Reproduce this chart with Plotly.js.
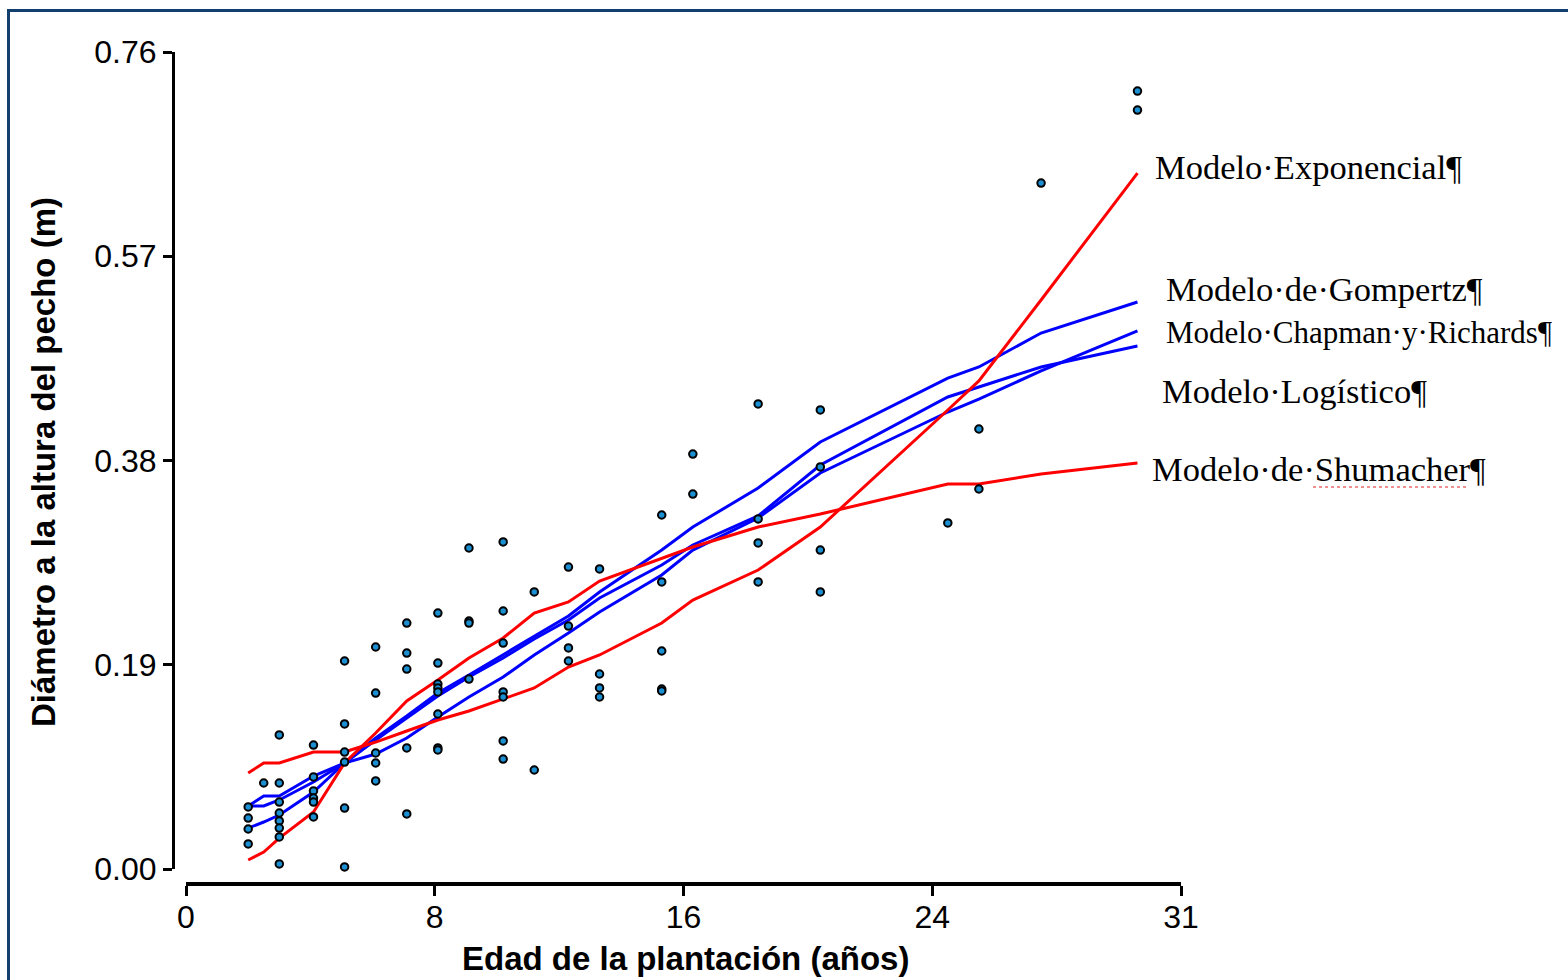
<!DOCTYPE html>
<html>
<head>
<meta charset="utf-8">
<script src="https://cdn.plot.ly/plotly-3.0.1.min.js"></script>
<style>html,body{margin:0;padding:0;background:#fff;}#chart{width:1568px;height:980px;}</style>
</head>
<body>
<div id="chart"></div>
<script>
// Ages (years) at which the fitted models are drawn
const ages = [2.0, 2.5, 3.0, 4.1, 5.1, 6.1, 7.1, 8.1, 9.1, 10.2, 11.2, 12.3, 13.3, 15.3, 16.3, 18.4, 20.4, 24.5, 25.5, 27.5, 30.6];

// Fitted model values (m)
const exponencial = [0.0893, 0.0986, 0.0986, 0.1088, 0.1088, 0.1181, 0.1284, 0.1386, 0.1470, 0.1581, 0.1684, 0.1879, 0.1991, 0.2288, 0.2502, 0.2781, 0.3181, 0.4270, 0.4540, 0.5293, 0.6474];
const shumacher   = [0.0084, 0.0158, 0.0288, 0.0530, 0.0986, 0.1265, 0.1563, 0.1758, 0.1963, 0.2149, 0.2381, 0.2484, 0.2679, 0.2893, 0.2995, 0.3181, 0.3302, 0.3581, 0.3581, 0.3674, 0.3777];
const gompertz    = [0.0586, 0.0679, 0.0679, 0.0865, 0.0986, 0.1219, 0.1423, 0.1637, 0.1805, 0.1991, 0.2167, 0.2353, 0.2577, 0.2967, 0.3181, 0.3544, 0.3972, 0.4567, 0.4670, 0.4986, 0.5274];
const logistico   = [0.0586, 0.0586, 0.0642, 0.0809, 0.0986, 0.1200, 0.1405, 0.1609, 0.1786, 0.1963, 0.2140, 0.2316, 0.2521, 0.2828, 0.3014, 0.3284, 0.3758, 0.4391, 0.4484, 0.4670, 0.4865];
const chapman     = [0.0381, 0.0437, 0.0502, 0.0716, 0.0986, 0.1070, 0.1219, 0.1414, 0.1600, 0.1786, 0.1991, 0.2195, 0.2391, 0.2735, 0.2967, 0.3265, 0.3684, 0.4251, 0.4372, 0.4633, 0.5005];

// Observations
const obsAge = [
  2.0, 2.0, 2.0, 2.0,
  2.5,
  3.0, 3.0, 3.0, 3.0, 3.0, 3.0, 3.0, 3.0,
  4.1, 4.1, 4.1, 4.1, 4.1, 4.1,
  5.1, 5.1, 5.1, 5.1, 5.1, 5.1,
  6.1, 6.1, 6.1, 6.1, 6.1,
  7.1, 7.1, 7.1, 7.1, 7.1,
  8.1, 8.1, 8.1, 8.1, 8.1, 8.1, 8.1, 8.1,
  9.1, 9.1, 9.1, 9.1,
  10.2, 10.2, 10.2, 10.2, 10.2, 10.2, 10.2,
  11.2, 11.2,
  12.3, 12.3, 12.3, 12.3,
  13.3, 13.3, 13.3, 13.3,
  15.3, 15.3, 15.3, 15.3, 15.3,
  16.3, 16.3,
  18.4, 18.4, 18.4, 18.4,
  20.4, 20.4, 20.4, 20.4,
  24.5,
  25.5, 25.5,
  27.5,
  30.6, 30.6
];
const obsDiam = [
  0.0577, 0.0474, 0.0372, 0.0233,
  0.0800,
  0.1247, 0.0800, 0.0623, 0.0521, 0.0447, 0.0381, 0.0298, 0.0047,
  0.1153, 0.0856, 0.0726, 0.0660, 0.0623, 0.0484,
  0.1935, 0.1349, 0.1088, 0.0995, 0.0567, 0.0019,
  0.2065, 0.1637, 0.1079, 0.0986, 0.0819,
  0.2288, 0.2009, 0.1860, 0.1126, 0.0512,
  0.2381, 0.1916, 0.1721, 0.1684, 0.1647, 0.1442, 0.1126, 0.1107,
  0.2986, 0.2307, 0.2288, 0.1767,
  0.3042, 0.2400, 0.2102, 0.1647, 0.1600, 0.1191, 0.1023,
  0.2577, 0.0921,
  0.2809, 0.2260, 0.2056, 0.1935,
  0.2791, 0.1814, 0.1684, 0.1600,
  0.3293, 0.2670, 0.2028, 0.1674, 0.1656,
  0.3860, 0.3488,
  0.4326, 0.3256, 0.3033, 0.2670,
  0.4270, 0.3740, 0.2967, 0.2577,
  0.3219,
  0.4093, 0.3535,
  0.6381,
  0.7237, 0.7060
];

// Axis ticks
const xTickVals = [0, 8, 16, 24, 32];
const xTickText = ['0', '8', '16', '24', '31'];
const yTickVals = [0, 0.19, 0.38, 0.57, 0.76];
const yTickText = ['0.00', '0.19', '0.38', '0.57', '0.76'];

// Labels
const modelLabels = ['Modelo·Exponencial¶', 'Modelo·de·Gompertz¶', 'Modelo·Chapman·y·Richards¶', 'Modelo·Logístico¶', 'Modelo·de·Shumacher¶'];
const xTitle = 'Edad de la plantación (años)';
const yTitle = 'Diámetro a la altura del pecho (m)';

const W = 1568, H = 980;
const px = v => v / W;
const py = v => 1 - v / H;

function lineTrace(y, color) {
  return {x: ages, y: y, type: 'scatter', mode: 'lines', line: {color: color, width: 3}, hoverinfo: 'skip', showlegend: false, cliponaxis: false};
}

const data = [
  lineTrace(gompertz, '#0000ff'),
  lineTrace(logistico, '#0000ff'),
  lineTrace(chapman, '#0000ff'),
  lineTrace(exponencial, '#ff0000'),
  lineTrace(shumacher, '#ff0000'),
  {x: obsAge, y: obsDiam, type: 'scatter', mode: 'markers', cliponaxis: false, showlegend: false,
   marker: {size: 7.5, color: '#1a8fd2', line: {color: '#000000', width: 2}}}
];

const serif = 'Liberation Serif, Times New Roman, serif';
const sans = 'Liberation Sans, Arial, sans-serif';

const labelPos = [
  {x: 1153, y: 167, size: 34.5},
  {x: 1164, y: 289, size: 34.5},
  {x: 1164, y: 333, size: 31},
  {x: 1160, y: 391, size: 34.5},
  {x: 1150, y: 469, size: 34.5}
];

const annotations = modelLabels.map((t, i) => ({
  text: t, xref: 'paper', yref: 'paper', x: px(labelPos[i].x), y: py(labelPos[i].y),
  xanchor: 'left', yanchor: 'middle', showarrow: false,
  font: {family: serif, size: labelPos[i].size, color: '#000'}
}));
annotations.push({
  text: '<b>' + xTitle + '</b>', xref: 'paper', yref: 'paper', x: px(685), y: py(958),
  xanchor: 'center', yanchor: 'middle', showarrow: false,
  font: {family: sans, size: 33, color: '#000'}
});
annotations.push({
  text: '<b>' + yTitle + '</b>', xref: 'paper', yref: 'paper', x: px(43), y: py(462),
  xanchor: 'center', yanchor: 'middle', showarrow: false, textangle: -90,
  font: {family: sans, size: 33, color: '#000'}
});

const layout = {
  width: W, height: H,
  margin: {l: 0, r: 0, t: 0, b: 0},
  paper_bgcolor: '#ffffff', plot_bgcolor: '#ffffff',
  showlegend: false,
  xaxis: {
    domain: [px(186), px(1181)], range: [0, 32], anchor: 'free', position: py(883),
    showgrid: false, zeroline: false, showline: true, linecolor: '#000', linewidth: 3.5,
    ticks: 'outside', ticklen: 10, tickwidth: 3, tickcolor: '#000',
    tickvals: xTickVals, ticktext: xTickText, ticklabelstandoff: -6,
    tickfont: {family: sans, size: 32, color: '#000'}
  },
  yaxis: {
    domain: [py(869), py(52)], range: [0, 0.76], anchor: 'free', position: px(173),
    showgrid: false, zeroline: false, showline: true, linecolor: '#000', linewidth: 3,
    ticks: 'outside', ticklen: 9, tickwidth: 3, tickcolor: '#000',
    tickvals: yTickVals, ticktext: yTickText,
    tickfont: {family: sans, size: 32, color: '#000'}
  },
  annotations: annotations,
  shapes: [
    {type: 'rect', xref: 'paper', yref: 'paper', x0: px(8.5), x1: 1.02, y0: -0.02, y1: py(10.5),
     line: {color: '#123f6d', width: 3}, fillcolor: 'rgba(0,0,0,0)', layer: 'below'},
    {type: 'line', xref: 'paper', yref: 'paper', x0: px(1313), x1: px(1467), y0: py(487), y1: py(487),
     line: {color: '#e02020', width: 1.2, dash: 'dot'}}
  ]
};

Plotly.newPlot('chart', data, layout, {staticPlot: true, displayModeBar: false});
</script>
</body>
</html>
